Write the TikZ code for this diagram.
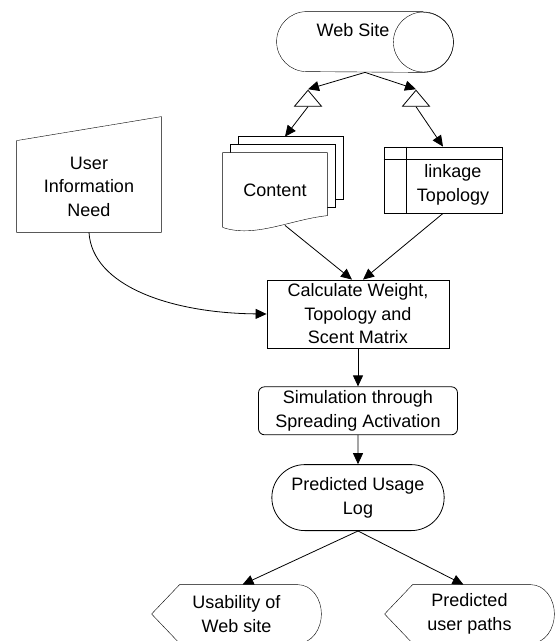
\documentclass[tikz,border=0pt]{standalone}
\usepackage{fontspec}
\setmainfont{Liberation Sans}
\usetikzlibrary{arrows.meta, positioning, calc, backgrounds,
                shapes.geometric, shapes.misc}

\begin{document}
\begin{tikzpicture}[
  x=1pt, y=-1pt,
  font=\fontsize{18}{23.5}\selectfont,
  line width=0.8pt,
  store/.style={minimum width=176pt, minimum height=60pt, inner sep=0pt},
  tri/.style={draw, isosceles triangle, isosceles triangle stretches,
              shape border rotate=90, minimum width=27pt,
              minimum height=16pt, inner sep=0pt},
  docs/.style={minimum width=104pt, minimum height=74pt, inner sep=0pt},
  intstore/.style={draw, rectangle, minimum width=118pt, minimum height=66pt},
  manin/.style={minimum width=144pt, minimum height=91pt, align=center},
  process/.style={draw, rectangle, minimum width=182pt,
                  minimum height=68pt, align=center},
  altproc/.style={draw, rectangle, rounded corners=6pt, minimum width=199pt,
                  minimum height=48pt, align=center},
  term/.style={draw, rounded rectangle, minimum width=179pt,
               minimum height=66pt, align=center},
  dispbox/.style={minimum width=169pt, minimum height=58pt, align=center},
  arr/.style={-{Triangle[length=11pt,width=10pt]}},
]
\useasboundingbox (0,0) rectangle (555,641);

\node[store] (site) at (365,42) {};
\node[tri] (tri1) at (308,100) {};
\node[tri] (tri2) at (416,100) {};
\node[docs] (content) at (275,190) {Content};
\node[intstore, label={[xshift=10pt,yshift=-5pt,align=center]center:linkage\\Topology}] (link) at (443,180) {};
\node[manin] (user) at (89,186.5) {User\\Information\\Need};
\node[process] (calc) at (358,314) {Calculate Weight,\\Topology and\\Scent Matrix};
\node[altproc, below=38pt of calc] (sim) {Simulation through\\Spreading Activation};
\node[term, below=29pt of sim] (log) {Predicted Usage\\Log};
\node[dispbox] (usab) at (236.5,614) {Usability of\\Web site};
\node[dispbox] (paths) at (469.5,614) {Predicted\\user paths};
\node (sitetext) at (353,30) {Web Site};

% outlines of the special shapes
\begin{scope}[on background layer]
  \draw ([xshift=-30pt]site.north east) -- ([xshift=30pt]site.north west)
    arc[start angle=90, end angle=270, x radius=30pt, y radius=30pt]
    -- ([xshift=-30pt]site.south east)
    arc[start angle=-90, end angle=90, x radius=30pt, y radius=30pt];
  \draw ([xshift=-30pt]site.east) circle[radius=30pt];
  \foreach \d in {16,8}
    \draw[fill=white] ($(content.north west)+(\d,-\d)$) rectangle ($(content.north east)+(\d,63-\d)$);
  \draw[fill=white] (content.south west) -- (content.north west) -- (content.north east)
    -- ++(0,63) .. controls +(-37,4) and +(32,11) .. (content.south west);
  \draw ([xshift=23pt]link.north west) -- ([xshift=23pt]link.south west);
  \draw ([yshift=-13pt]link.north west) -- ([yshift=-13pt]link.north east);
  \draw (user.north west) -- ([yshift=24pt]user.north east) -- (user.south east)
    -- (user.south west) -- cycle;
  \foreach \n in {usab,paths}
    \draw (\n.west) -- ([xshift=28pt]\n.north west) -- ([xshift=-24pt]\n.north east)
      to[out=0,in=90] (\n.east) to[out=-90,in=0] ([xshift=-24pt]\n.south east)
      -- ([xshift=28pt]\n.south west) -- cycle;
\end{scope}

\draw[arr] (site.south) -- (tri1.apex);
\draw[arr] (site.south) -- (tri2.apex);
\draw[arr] (tri1.lower side) -- ([shift={(10,-16)}]content.north);
\draw[arr] (tri2.lower side) -- (link.north);
\draw[arr] ([shift={(10,-2)}]content.south) -- ([xshift=-6pt]calc.north);
\draw[arr] (link.south) -- ([xshift=5pt]calc.north);
\draw[arr] (user.south) .. controls +(3,53) and +(-97,-1) .. (calc.west);
\draw[arr] (calc) -- (sim);
\draw[arr] (sim) -- (log);
\draw[arr] (log.south) -- ([xshift=6pt]usab.north);
\draw[arr] (log.south) -- ([xshift=-6pt]paths.north);
\end{tikzpicture}
\end{document}
